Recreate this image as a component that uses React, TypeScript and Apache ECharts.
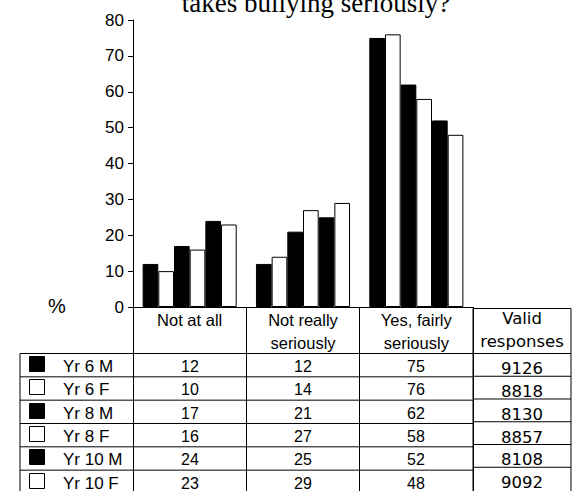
import React, { useEffect, useRef } from 'react';
import * as echarts from 'echarts';

const categories = ['Not at all', 'Not really\nseriously', 'Yes, fairly\nseriously'];
const seriesNames = ['Yr 6 M', 'Yr 6 F', 'Yr 8 M', 'Yr 8 F', 'Yr 10 M', 'Yr 10 F'];
const seriesFills = ['#000000', '#ffffff', '#000000', '#ffffff', '#000000', '#ffffff'];
const yr6M = [12, 12, 75];
const yr6F = [10, 14, 76];
const yr8M = [17, 21, 62];
const yr8F = [16, 27, 58];
const yr10M = [24, 25, 52];
const yr10F = [23, 29, 48];
const seriesValues = [yr6M, yr6F, yr8M, yr8F, yr10M, yr10F];
const validResponses = [9126, 8818, 8130, 8857, 8108, 9092];
const validHeader = 'Valid\nresponses';
const titleText = 'takes bullying seriously?';
const yMin = 0;
const yMax = 80;
const yInterval = 10;

const SANS = '"Liberation Sans", Arial, sans-serif';
const WIDE = '"DejaVu Sans", "Liberation Sans", sans-serif';
const SERIF = '"Liberation Serif", "Times New Roman", serif';

export default function App() {
  const ref = useRef<HTMLDivElement>(null);

  useEffect(() => {
    if (!ref.current) return;
    const chart = echarts.init(ref.current, null, { renderer: 'svg' });

    const option: any = {
      animation: false,
      backgroundColor: '#ffffff',
      grid: { left: 133, right: 101, top: 20, bottom: 184 },
      xAxis: {
        type: 'category',
        data: categories,
        axisLine: { show: true, lineStyle: { color: '#000', width: 1 } },
        axisTick: { show: true, length: 190, lineStyle: { color: '#000', width: 1 } },
        axisLabel: {
          color: '#000',
          fontFamily: SANS,
          fontSize: 16.5,
          lineHeight: 23,
          margin: 1,
          interval: 0,
        },
        splitLine: { show: false },
      },
      yAxis: {
        type: 'value',
        min: yMin,
        max: yMax,
        interval: yInterval,
        axisLine: { show: true, lineStyle: { color: '#000', width: 1 } },
        axisTick: { show: true, length: 5, lineStyle: { color: '#000', width: 1 } },
        axisLabel: { color: '#000', fontFamily: SANS, fontSize: 17, margin: 9 },
        splitLine: { show: false },
      },
      series: seriesValues.map((vals, i) => ({
        type: 'bar',
        name: seriesNames[i],
        data: vals,
        barGap: '0%',
        barCategoryGap: '17%',
        itemStyle: { color: seriesFills[i], borderColor: '#000', borderWidth: 1 },
      })),
    };
    chart.setOption(option);

    const cx = categories.map((_, j) => chart.convertToPixel({ xAxisIndex: 0 }, j) as number);
    const half = (cx[1] - cx[0]) / 2;
    const plotRight = cx[cx.length - 1] + half;
    const y0 = chart.convertToPixel({ yAxisIndex: 0 }, 0) as number;

    const tableLeft = 20;
    const rowTop = 353.5;
    const rowH = 23.33;
    const validLeft = plotRight;
    const validRight = 571;
    const validTop = y0 + 1.5;
    const validRowH = 22.75;
    const bottom = 495;

    const line = (x1: number, y1: number, x2: number, y2: number) => ({
      type: 'line',
      shape: { x1, y1, x2, y2 },
      style: { stroke: '#000', lineWidth: 1 },
      silent: true,
    });
    const text = (t: string, x: number, y: number, size: number, align: string, family = SANS) => ({
      type: 'text',
      x: Math.round(x),
      y: Math.round(y),
      style: {
        text: t,
        fill: '#000',
        fontSize: size,
        fontFamily: family,
        align,
        verticalAlign: 'middle',
      },
      silent: true,
    });

    const g: any[] = [];
    // title (first line cut off above)
    g.push(text(titleText, 316, 3, 27, 'center', SERIF));
    // % label
    g.push(text('%', 57, 306, 20, 'center'));

    // data table horizontal lines
    for (let r = 0; r < seriesNames.length; r++) {
      g.push(line(tableLeft, rowTop + r * rowH, validLeft, rowTop + r * rowH));
    }
    g.push(line(tableLeft, rowTop, tableLeft, bottom));

    // legend keys + names + values
    seriesNames.forEach((name, r) => {
      const yc = rowTop + r * rowH + rowH / 2;
      g.push({
        type: 'rect',
        shape: { x: 29.5, y: Math.round(yc) - 8.5, width: 15, height: 15 },
        style: { fill: seriesFills[r], stroke: '#000', lineWidth: 1 },
        silent: true,
      });
      g.push(text(name, 62.5, yc + 1, 17, 'left'));
      seriesValues[r].forEach((v, j) => {
        g.push(text(String(v), cx[j], yc + 1, 16, 'center'));
      });
    });

    // valid responses column
    g.push(line(validLeft, validTop, validRight, validTop));
    g.push(line(validRight, validTop, validRight, bottom));
    g.push(line(validLeft, validTop, validLeft, bottom));
    const vcx = (validLeft + validRight) / 2;
    const vh = validHeader.split('\n');
    g.push(text(vh[0], vcx, 317.5, 16.5, 'center', WIDE));
    g.push(text(vh[1], vcx, 341, 16.5, 'center', WIDE));
    validResponses.forEach((v, r) => {
      const yTop = rowTop + r * validRowH;
      if (r > 0) g.push(line(validLeft, yTop, validRight, yTop));
      g.push(text(String(v), vcx, yTop + validRowH / 2 + 3.5, 16.5, 'center', WIDE));
    });
    g.push(line(validLeft, rowTop, validRight, rowTop));

    chart.setOption({ graphic: { elements: g } });

    return () => chart.dispose();
  }, []);

  return <div ref={ref} style={{ width: 574, height: 491, position: 'absolute', left: 0, top: 0 }} />;
}
